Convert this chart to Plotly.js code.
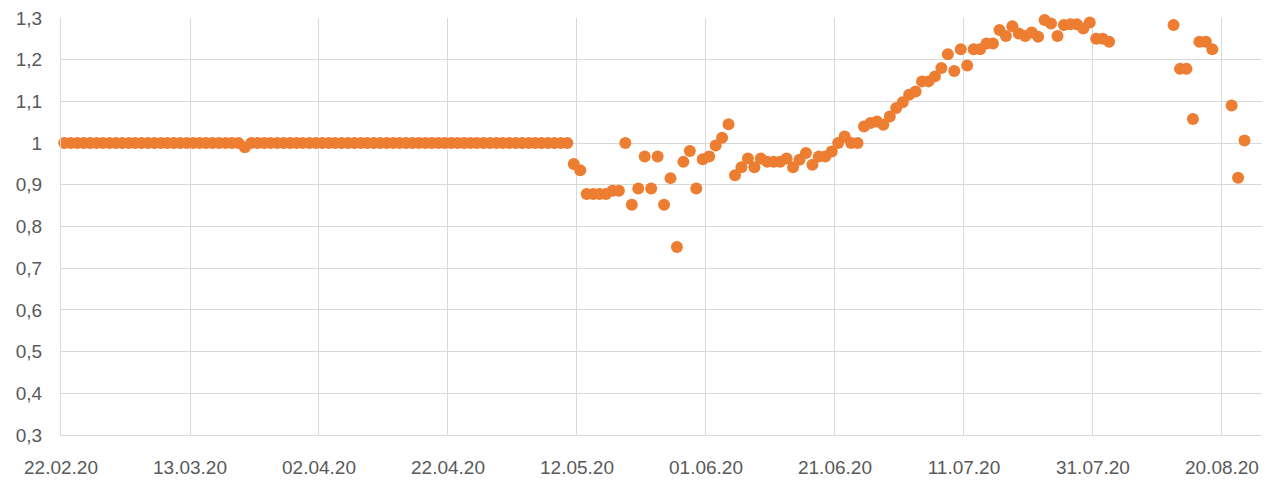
<!DOCTYPE html>
<html>
<head>
<meta charset="utf-8">
<script src="https://cdn.plot.ly/plotly-3.0.1.min.js"></script>
<style>
html,body{margin:0;padding:0;background:#fff;}
#chart{width:1281px;height:482px;}
</style>
</head>
<body>
<div id="chart"></div>
<script>
const dates = [
"2020-02-22","2020-02-23","2020-02-24","2020-02-25","2020-02-26","2020-02-27","2020-02-28","2020-02-29",
"2020-03-01","2020-03-02","2020-03-03","2020-03-04","2020-03-05","2020-03-06","2020-03-07","2020-03-08","2020-03-09","2020-03-10",
"2020-03-11","2020-03-12","2020-03-13","2020-03-14","2020-03-15","2020-03-16","2020-03-17","2020-03-18","2020-03-19","2020-03-20",
"2020-03-21","2020-03-22","2020-03-23","2020-03-24","2020-03-25","2020-03-26","2020-03-27","2020-03-28","2020-03-29","2020-03-30","2020-03-31",
"2020-04-01","2020-04-02","2020-04-03","2020-04-04","2020-04-05","2020-04-06","2020-04-07","2020-04-08","2020-04-09","2020-04-10",
"2020-04-11","2020-04-12","2020-04-13","2020-04-14","2020-04-15","2020-04-16","2020-04-17","2020-04-18","2020-04-19","2020-04-20",
"2020-04-21","2020-04-22","2020-04-23","2020-04-24","2020-04-25","2020-04-26","2020-04-27","2020-04-28","2020-04-29","2020-04-30",
"2020-05-01","2020-05-02","2020-05-03","2020-05-04","2020-05-05","2020-05-06","2020-05-07","2020-05-08","2020-05-09","2020-05-10","2020-05-11",
"2020-05-12","2020-05-13","2020-05-14","2020-05-15","2020-05-16","2020-05-17","2020-05-18","2020-05-19","2020-05-20",
"2020-05-21","2020-05-22","2020-05-23","2020-05-24","2020-05-25","2020-05-26","2020-05-27","2020-05-28","2020-05-29","2020-05-30","2020-05-31",
"2020-06-01","2020-06-02","2020-06-03","2020-06-04","2020-06-05","2020-06-06","2020-06-07","2020-06-08","2020-06-09","2020-06-10",
"2020-06-11","2020-06-12","2020-06-13","2020-06-14","2020-06-15","2020-06-16","2020-06-17","2020-06-18","2020-06-19","2020-06-20",
"2020-06-21","2020-06-22","2020-06-23","2020-06-24","2020-06-25","2020-06-26","2020-06-27","2020-06-28","2020-06-29","2020-06-30",
"2020-07-01","2020-07-02","2020-07-03","2020-07-04","2020-07-05","2020-07-06","2020-07-07","2020-07-08","2020-07-09","2020-07-10",
"2020-07-11","2020-07-12","2020-07-13","2020-07-14","2020-07-15","2020-07-16","2020-07-17","2020-07-18","2020-07-19","2020-07-20",
"2020-07-21","2020-07-22","2020-07-23","2020-07-24","2020-07-25","2020-07-26","2020-07-27","2020-07-28","2020-07-29","2020-07-30","2020-07-31",
"2020-08-01","2020-08-02","2020-08-03","2020-08-04",
"2020-08-13","2020-08-14","2020-08-15","2020-08-16","2020-08-17","2020-08-18","2020-08-19",
"2020-08-22","2020-08-23","2020-08-24"
];

const values = [
1,1,1,1,1,1,1,1,
1,1,1,1,1,1,1,1,1,1,
1,1,1,1,1,1,1,1,1,1,
1,0.99,1,1,1,1,1,1,1,1,1,
1,1,1,1,1,1,1,1,1,1,
1,1,1,1,1,1,1,1,1,1,
1,1,1,1,1,1,1,1,1,1,
1,1,1,1,1,1,1,1,1,1,1,
0.95,0.935,0.878,0.878,0.878,0.878,0.886,0.886,1.0,
0.852,0.891,0.968,0.891,0.968,0.852,0.916,0.751,0.955,0.981,0.891,
0.961,0.968,0.994,1.013,1.045,0.923,0.942,0.963,0.942,0.963,
0.955,0.955,0.955,0.963,0.942,0.96,0.976,0.948,0.968,0.968,
0.98,1.0,1.016,1.0,1.0,1.04,1.048,1.052,1.044,1.064,
1.084,1.098,1.116,1.124,1.148,1.148,1.16,1.18,1.213,1.173,
1.225,1.186,1.225,1.225,1.239,1.239,1.271,1.257,1.28,1.263,
1.257,1.265,1.255,1.295,1.287,1.257,1.283,1.285,1.285,1.275,1.289,
1.25,1.25,1.243,1.301,
1.283,1.178,1.178,1.058,1.243,1.243,1.225,
1.09,0.917,1.006
];

const tickDates = ["2020-02-22","2020-03-13","2020-04-02","2020-04-22","2020-05-12","2020-06-01","2020-06-21","2020-07-11","2020-07-31","2020-08-20"];
const tickLabels = ["22.02.20","13.03.20","02.04.20","22.04.20","12.05.20","01.06.20","21.06.20","11.07.20","31.07.20","20.08.20"];

const trace = {
  type: 'scatter',
  mode: 'markers',
  x: dates,
  y: values,
  marker: {color: '#ED7D31', size: 12, line: {width: 0}},
  cliponaxis: false,
  hoverinfo: 'x+y'
};

const font = {family: 'Liberation Sans, Arial, sans-serif', size: 19, color: '#595959'};

const layout = {
  width: 1281,
  height: 482,
  margin: {l: 61, r: 19, t: 18, b: 47, pad: 0},
  paper_bgcolor: '#ffffff',
  plot_bgcolor: '#ffffff',
  separators: ', ',
  showlegend: false,
  font: font,
  xaxis: {
    type: 'date',
    range: ['2020-02-22 12:00', '2020-08-26 17:00'],
    tickmode: 'array',
    tickvals: tickDates.map(d => d + ' 12:00'),
    ticktext: tickLabels,
    showgrid: true,
    gridcolor: '#d9d9d9',
    gridwidth: 1,
    showline: true,
    linecolor: '#d9d9d9',
    linewidth: 1,
    zeroline: false,
    ticks: '',
    ticklabelstandoff: 15,
    tickfont: font
  },
  yaxis: {
    range: [0.3, 1.3],
    tick0: 0.3,
    dtick: 0.1,
    showgrid: true,
    gridcolor: '#d9d9d9',
    gridwidth: 1,
    showline: true,
    linecolor: '#d9d9d9',
    linewidth: 1,
    zeroline: false,
    ticks: '',
    ticklabelstandoff: 14,
    tickfont: font
  }
};

Plotly.newPlot('chart', [trace], layout, {displayModeBar: false, staticPlot: true});
</script>
</body>
</html>
